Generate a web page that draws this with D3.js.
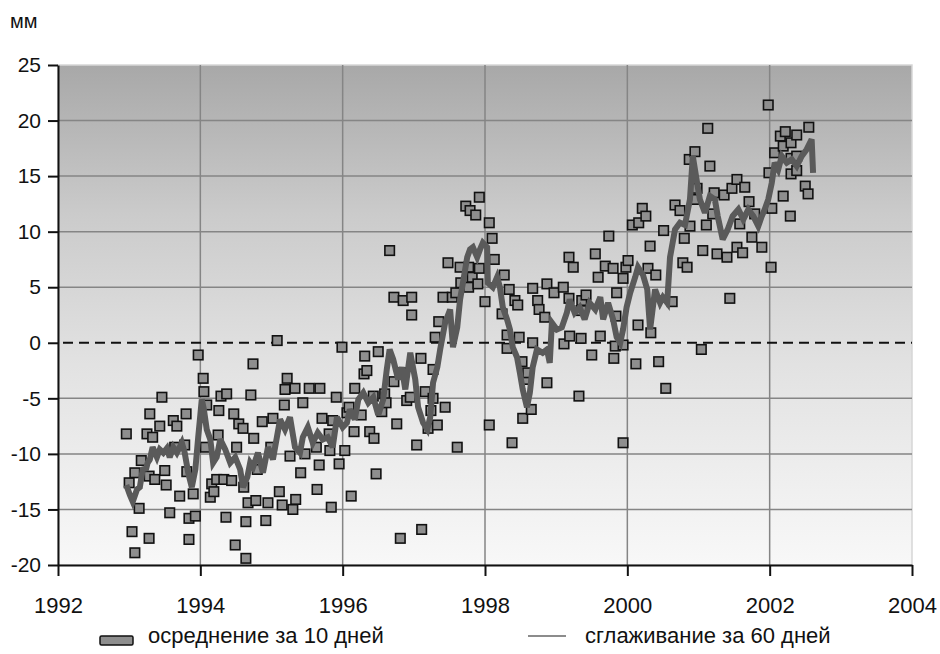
<!DOCTYPE html>
<html>
<head>
<meta charset="utf-8">
<script src="https://cdn.jsdelivr.net/npm/d3@7"></script>
<style>
  body { margin: 0; background: #fff; }
  svg text { font-family: "Liberation Sans", Arial, sans-serif; fill: #111; }
</style>
</head>
<body>
<script>
// 10-day averages (squares)
var dotYears = [
  1992.96,1993.00,1993.04,1993.08,1993.08,1993.14,1993.17,1993.25,1993.28,1993.28,
  1993.29,1993.33,1993.36,1993.43,1993.46,1993.50,1993.52,1993.57,1993.62,1993.64,
  1993.67,1993.71,1993.78,1993.80,1993.81,1993.84,1993.84,1993.90,1993.93,1993.97,
  1994.04,1994.05,1994.07,1994.09,1994.14,1994.16,1994.19,1994.23,1994.25,1994.26,
  1994.29,1994.33,1994.36,1994.37,1994.44,1994.47,1994.49,1994.51,1994.54,1994.60,
  1994.61,1994.64,1994.64,1994.67,1994.71,1994.74,1994.75,1994.78,1994.80,1994.87,
  1994.92,1994.95,1994.99,1995.02,1995.08,1995.11,1995.15,1995.18,1995.19,1995.22,
  1995.26,1995.30,1995.33,1995.34,1995.41,1995.44,1995.47,1995.53,1995.63,1995.64,
  1995.67,1995.68,1995.71,1995.81,1995.82,1995.84,1995.86,1995.91,1995.95,1995.99,
  1996.03,1996.06,1996.09,1996.12,1996.16,1996.17,1996.26,1996.30,1996.31,1996.34,
  1996.38,1996.43,1996.44,1996.47,1996.50,1996.55,1996.59,1996.61,1996.66,1996.72,
  1996.72,1996.76,1996.81,1996.82,1996.85,1996.90,1996.95,1996.97,1996.97,1997.04,
  1997.10,1997.11,1997.16,1997.20,1997.24,1997.27,1997.27,1997.30,1997.33,1997.35,
  1997.41,1997.44,1997.48,1997.54,1997.59,1997.61,1997.65,1997.66,1997.73,1997.77,
  1997.77,1997.79,1997.82,1997.87,1997.90,1997.92,1997.92,1998.00,1998.06,1998.06,
  1998.10,1998.13,1998.24,1998.27,1998.31,1998.31,1998.34,1998.38,1998.42,1998.46,
  1998.48,1998.52,1998.53,1998.56,1998.60,1998.65,1998.67,1998.67,1998.74,1998.76,
  1998.84,1998.87,1998.87,1998.97,1999.10,1999.11,1999.18,1999.18,1999.19,1999.24,
  1999.32,1999.35,1999.35,1999.36,1999.42,1999.50,1999.55,1999.59,1999.62,1999.69,
  1999.74,1999.80,1999.81,1999.83,1999.84,1999.85,1999.94,1999.94,1999.94,1999.98,
  2000.01,2000.07,2000.12,2000.15,2000.16,2000.21,2000.26,2000.29,2000.32,2000.33,
  2000.40,2000.44,2000.51,2000.54,2000.63,2000.67,2000.74,2000.78,2000.80,2000.84,
  2000.87,2000.88,2000.94,2000.95,2000.98,2001.04,2001.06,2001.11,2001.13,2001.16,
  2001.20,2001.22,2001.26,2001.36,2001.40,2001.44,2001.47,2001.54,2001.54,2001.58,
  2001.62,2001.65,2001.71,2001.75,2001.79,2001.89,2001.98,2001.99,2002.02,2002.03,
  2002.07,2002.15,2002.19,2002.19,2002.22,2002.29,2002.30,2002.30,2002.30,2002.38,
  2002.38,2002.38,2002.50,2002.54,2002.55
];
var dotValues = [
  -8.2,-12.6,-17.0,-18.9,-11.7,-14.9,-10.6,-8.2,-12.0,-17.6,
  -6.4,-8.5,-12.3,-7.5,-4.9,-11.5,-12.8,-15.3,-7.0,-9.4,
  -7.5,-13.8,-9.2,-6.4,-11.6,-15.8,-17.7,-13.6,-15.6,-1.1,
  -3.2,-4.4,-9.4,-5.6,-13.9,-12.7,-13.4,-12.3,-8.3,-6.1,
  -4.8,-12.3,-15.7,-4.6,-12.4,-6.4,-18.2,-9.4,-7.3,-7.7,
  -13.0,-16.1,-19.4,-14.4,-4.7,-1.9,-8.6,-14.2,-11.4,-7.1,
  -16.0,-14.4,-9.4,-6.8,0.2,-13.4,-14.6,-5.6,-4.2,-3.2,
  -10.2,-15.0,-4.1,-14.1,-11.7,-5.4,-10.0,-4.1,-9.4,-13.2,
  -11.0,-4.1,-6.8,-8.2,-9.7,-14.8,-7.0,-4.9,-10.9,-0.4,
  -9.7,-6.3,-5.8,-13.8,-8.0,-4.1,-6.5,-2.8,-1.2,-2.5,
  -8.0,-4.8,-8.6,-11.8,-0.8,-6.2,-4.6,-5.4,8.3,4.1,
  -3.5,-7.3,-17.6,-2.7,3.8,-5.2,-4.9,4.1,2.5,-9.2,
  -1.4,-16.8,-4.4,-7.7,-6.1,-2.4,-5.0,0.5,-7.4,1.9,
  4.1,-5.8,7.2,4.1,4.5,-9.4,6.8,5.4,12.3,5.0,
  6.8,11.9,5.9,11.5,5.3,13.1,6.7,3.7,10.8,-7.4,
  9.4,7.5,2.6,6.1,0.7,-0.5,4.8,-9.0,3.8,3.4,
  0.5,-1.7,-6.8,-3.3,-2.7,-6.0,0.0,4.9,3.8,3.0,
  2.3,5.3,-3.6,4.5,5.0,-0.1,7.7,4.0,0.6,6.8,
  -4.8,0.4,2.9,3.8,4.3,-1.1,8.0,5.9,0.6,6.9,
  9.6,6.7,-1.4,-0.3,2.4,4.5,5.8,-0.2,-9.0,6.8,
  7.4,10.6,-1.9,1.6,10.8,12.1,11.4,6.7,8.7,0.9,
  6.1,-1.7,10.1,-4.1,3.7,12.4,11.9,7.2,9.4,6.8,
  16.5,10.5,12.9,17.2,13.9,-0.6,8.3,10.6,19.3,15.9,
  11.6,13.5,8.0,13.3,7.7,4.0,13.9,14.7,8.6,10.7,
  8.1,14.0,12.7,9.5,11.6,8.6,21.4,15.3,6.8,12.1,
  17.1,18.6,17.7,13.2,19.0,11.4,18.0,16.6,15.2,18.7,
  16.8,15.5,14.1,13.4,19.4
];

// 60-day smoothing (thick line)
var lineYears = [
  1992.96,1993.01,1993.05,1993.11,1993.15,1993.19,1993.24,1993.26,1993.29,1993.33,
  1993.39,1993.43,1993.48,1993.53,1993.57,1993.62,1993.67,1993.74,1993.78,1993.83,
  1993.88,1993.93,1993.97,1994.00,1994.02,1994.05,1994.09,1994.14,1994.18,1994.23,
  1994.28,1994.35,1994.42,1994.49,1994.56,1994.60,1994.66,1994.70,1994.74,1994.81,
  1994.88,1994.95,1995.02,1995.12,1995.19,1995.26,1995.33,1995.40,1995.44,1995.51,
  1995.58,1995.65,1995.72,1995.79,1995.86,1995.92,1996.00,1996.06,1996.10,1996.17,
  1996.22,1996.29,1996.36,1996.43,1996.50,1996.57,1996.62,1996.66,1996.71,1996.78,
  1996.83,1996.88,1996.95,1997.02,1997.06,1997.13,1997.19,1997.23,1997.27,1997.33,
  1997.37,1997.44,1997.51,1997.55,1997.61,1997.65,1997.69,1997.75,1997.79,1997.83,
  1997.89,1997.93,1997.97,1998.03,1998.04,1998.11,1998.17,1998.21,1998.25,1998.31,
  1998.35,1998.39,1998.45,1998.49,1998.53,1998.59,1998.63,1998.67,1998.73,1998.81,
  1998.87,1998.91,1998.94,1999.01,1999.08,1999.15,1999.19,1999.26,1999.33,1999.40,
  1999.47,1999.55,1999.62,1999.66,1999.73,1999.80,1999.85,1999.90,1999.94,1999.99,
  2000.04,2000.11,2000.15,2000.22,2000.28,2000.32,2000.39,2000.46,2000.50,2000.56,
  2000.60,2000.67,2000.74,2000.81,2000.88,2000.92,2000.98,2001.02,2001.09,2001.16,
  2001.23,2001.27,2001.34,2001.41,2001.48,2001.56,2001.63,2001.70,2001.77,2001.84,
  2001.89,2001.93,2001.98,2002.03,2002.07,2002.12,2002.17,2002.24,2002.31,2002.38,
  2002.45,2002.52,2002.59,2002.61
];
var lineValues = [
  -12.8,-13.7,-14.3,-13.2,-13.0,-11.4,-11.3,-10.8,-10.5,-9.4,
  -10.3,-9.6,-9.9,-9.5,-10.3,-9.4,-9.9,-9.0,-9.9,-11.7,
  -13.0,-11.4,-8.5,-6.5,-5.1,-6.0,-7.8,-8.7,-10.8,-10.3,
  -8.7,-9.6,-10.8,-10.3,-11.4,-13.0,-12.1,-10.8,-11.2,-9.9,
  -11.7,-9.4,-10.5,-6.9,-7.8,-6.7,-9.4,-9.9,-8.5,-7.6,
  -9.0,-8.1,-8.7,-8.5,-9.4,-6.7,-7.6,-7.2,-6.0,-6.9,
  -5.1,-4.5,-5.4,-4.9,-6.5,-5.1,-2.4,-0.6,-1.5,-3.3,
  -2.2,-4.2,-0.9,-3.3,-5.8,-7.2,-7.8,-6.7,-3.6,-2.2,
  -0.6,1.8,3.0,-0.4,1.4,3.9,5.4,7.7,8.4,8.6,
  7.7,8.4,9.0,8.6,5.4,5.0,5.9,5.0,3.2,2.1,
  1.2,-0.4,-1.3,-2.7,-4.2,-5.8,-4.5,-2.2,-0.6,-0.9,
  -0.6,-1.8,1.8,1.2,1.4,2.7,3.9,2.7,3.2,2.1,
  3.6,3.0,4.1,2.1,3.6,2.1,0.5,0.0,1.2,3.2,
  4.5,5.9,6.8,6.1,4.8,1.2,4.8,3.6,4.1,3.6,
  7.7,10.2,10.8,10.6,12.9,16.8,14.4,12.9,11.7,13.2,
  12.9,11.4,9.3,10.2,11.4,12.0,11.1,12.0,11.4,10.5,
  11.4,12.0,12.9,14.4,16.2,15.6,16.8,16.2,16.5,15.9,
  16.8,17.4,18.3,15.3
];

var yTicks = [25, 20, 15, 10, 5, 0, -5, -10, -15, -20];
var xTicks = [1992, 1994, 1996, 1998, 2000, 2002, 2004];
var unitLabel = "мм";
var legendLabels = ["осреднение за 10 дней", "сглаживание за 60 дней"];

var width = 940, height = 654;
var plotLeft = 58, plotRight = 912, plotTop = 65, plotBottom = 565;

var x = d3.scaleLinear().domain([1992, 2004]).range([plotLeft, plotRight]);
var y = d3.scaleLinear().domain([-20, 25]).range([plotBottom, plotTop]);

var svg = d3.select("body").append("svg")
    .attr("width", width)
    .attr("height", height);

// background gradient of the plot area
var grad = svg.append("defs").append("linearGradient")
    .attr("id", "bg")
    .attr("x1", 0).attr("y1", 0).attr("x2", 0).attr("y2", 1);
grad.append("stop").attr("offset", "0%").attr("stop-color", "#a8a8a8");
grad.append("stop").attr("offset", "30%").attr("stop-color", "#cbcbcb");
grad.append("stop").attr("offset", "60%").attr("stop-color", "#e2e2e2");
grad.append("stop").attr("offset", "100%").attr("stop-color", "#f8f8f8");

svg.append("rect")
    .attr("x", plotLeft).attr("y", plotTop)
    .attr("width", plotRight - plotLeft).attr("height", plotBottom - plotTop)
    .attr("fill", "url(#bg)")
    .attr("stroke", "#d6d6d6")
    .attr("stroke-width", 1.5);

// grid
svg.append("g").selectAll("line")
    .data(yTicks.filter(function(d) { return d != 0 && d != -20 && d != 25; }))
    .enter().append("line")
    .attr("x1", plotLeft).attr("x2", plotRight)
    .attr("y1", function(d) { return y(d); })
    .attr("y2", function(d) { return y(d); })
    .attr("stroke", "#858585")
    .attr("stroke-width", 1.5);

svg.append("g").selectAll("line")
    .data(xTicks.filter(function(d) { return d > 1992 && d < 2004; }))
    .enter().append("line")
    .attr("x1", function(d) { return x(d); })
    .attr("x2", function(d) { return x(d); })
    .attr("y1", plotTop).attr("y2", plotBottom)
    .attr("stroke", "#858585")
    .attr("stroke-width", 1.5);

// zero line
svg.append("line")
    .attr("x1", plotLeft + 5).attr("x2", plotRight)
    .attr("y1", y(0)).attr("y2", y(0))
    .attr("stroke", "#111")
    .attr("stroke-width", 2)
    .attr("stroke-dasharray", "10,6");

// squares
var dots = dotYears.map(function(d, i) { return {t: d, v: dotValues[i]}; });
var sq = 9.5;
svg.append("g").selectAll("rect")
    .data(dots)
    .enter().append("rect")
    .attr("x", function(d) { return x(d.t) - sq / 2; })
    .attr("y", function(d) { return y(d.v) - sq / 2; })
    .attr("width", sq).attr("height", sq)
    .attr("fill", "#8e8e8e")
    .attr("stroke", "#111")
    .attr("stroke-width", 1.6);

// smoothed line
var pts = lineYears.map(function(d, i) { return [d, lineValues[i]]; });
var line = d3.line()
    .x(function(d) { return x(d[0]); })
    .y(function(d) { return y(d[1]); });
svg.append("path")
    .datum(pts)
    .attr("d", line)
    .attr("fill", "none")
    .attr("stroke", "#5a5a5a")
    .attr("stroke-width", 6)
    .attr("stroke-linejoin", "miter")
    .attr("stroke-miterlimit", 3);

// axes
var yAxis = d3.axisLeft(y)
    .tickValues(yTicks)
    .tickSize(10)
    .tickSizeOuter(0)
    .tickPadding(7)
    .tickFormat(function(d) { return String(d); });
var gy = svg.append("g")
    .attr("transform", "translate(" + plotLeft + ",0)")
    .call(yAxis);
gy.selectAll("path, line").attr("stroke", "#111").attr("stroke-width", 2);
gy.selectAll("text").style("font-size", "21px").attr("fill", "#111");

var xAxis = d3.axisBottom(x)
    .tickValues(xTicks)
    .tickSize(11)
    .tickSizeOuter(0)
    .tickPadding(21)
    .tickFormat(d3.format("d"));
var gx = svg.append("g")
    .attr("transform", "translate(0," + plotBottom + ")")
    .call(xAxis);
gx.selectAll("path, line").attr("stroke", "#111").attr("stroke-width", 2);
gx.selectAll("text").style("font-size", "22px").attr("fill", "#111");

// unit
svg.append("text")
    .attr("x", 10).attr("y", 28)
    .style("font-size", "20px")
    .text(unitLabel);

// legend
var lg = svg.append("g");
lg.append("rect")
    .attr("x", 100).attr("y", 636)
    .attr("width", 33).attr("height", 9)
    .attr("rx", 1.5)
    .attr("fill", "#8e8e8e")
    .attr("stroke", "#111")
    .attr("stroke-width", 1.5);
lg.append("text")
    .attr("x", 148).attr("y", 643)
    .style("font-size", "22px")
    .text(legendLabels[0]);
lg.append("line")
    .attr("x1", 528).attr("x2", 566)
    .attr("y1", 636).attr("y2", 636)
    .attr("stroke", "#666")
    .attr("stroke-width", 1.5);
lg.append("text")
    .attr("x", 585).attr("y", 643)
    .style("font-size", "22px")
    .text(legendLabels[1]);
</script>
</body>
</html>
